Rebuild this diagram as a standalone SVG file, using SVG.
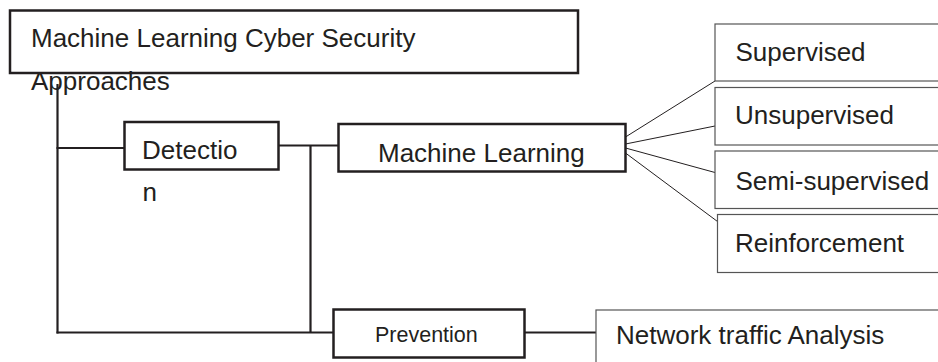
<svg xmlns="http://www.w3.org/2000/svg" width="938" height="362" viewBox="0 0 938 362">
  <style>
    .box { fill: #ffffff; stroke: #231f20; stroke-width: 2.5; }
    .leaf { fill: #ffffff; stroke: #555555; stroke-width: 1.2; }
    .wire { fill: none; stroke: #231f20; stroke-width: 2.2; }
    .fan { fill: none; stroke: #231f20; stroke-width: 1; }
    text { font-family: "Liberation Sans", Arial, sans-serif; font-size: 26px; fill: #231f20; }
    .small { font-size: 21.5px; }
  </style>
  <rect width="938" height="362" fill="#ffffff"/>

  <!-- connectors -->
  <g id="connectors">
    <line class="wire" x1="57.5" y1="84" x2="57.5" y2="333.5"/>
    <line class="wire" x1="56.5" y1="148" x2="124.5" y2="148"/>
    <line class="wire" x1="278.5" y1="145.5" x2="338.5" y2="145.5"/>
    <line class="wire" x1="310.5" y1="145.5" x2="310.5" y2="333"/>
    <line class="wire" x1="56.5" y1="332.5" x2="333.5" y2="332.5"/>
    <line class="wire" x1="524.5" y1="332.5" x2="596" y2="332.5"/>
    <line class="fan" x1="625.5" y1="137" x2="715" y2="81"/>
    <line class="fan" x1="625.5" y1="144" x2="715" y2="126"/>
    <line class="fan" x1="625.5" y1="148" x2="715" y2="172.5"/>
    <line class="fan" x1="625.5" y1="153" x2="717.5" y2="221.5"/>
  </g>

  <!-- root -->
  <g id="root">
    <rect class="box" x="10" y="10.5" width="568" height="62.5"/>
    <text x="31" y="47">Machine Learning Cyber Security</text>
    <text x="31" y="89.5">Approaches</text>
  </g>

  <g id="detection">
    <rect class="box" x="124.5" y="122" width="154" height="47.5"/>
    <text x="142" y="159">Detectio</text>
    <text x="142.5" y="201">n</text>
  </g>

  <g id="machine-learning">
    <rect class="box" x="338.5" y="124" width="287" height="47.5"/>
    <text x="378" y="162">Machine Learning</text>
  </g>

  <g id="supervised">
    <rect class="leaf" x="715" y="24" width="240" height="57"/>
    <text x="735.5" y="61">Supervised</text>
  </g>

  <g id="unsupervised">
    <rect class="leaf" x="715" y="87.5" width="240" height="57.5"/>
    <text x="735" y="123.5">Unsupervised</text>
  </g>

  <g id="semi-supervised">
    <rect class="leaf" x="715" y="151" width="240" height="57.5"/>
    <text x="735.5" y="190">Semi-supervised</text>
  </g>

  <g id="reinforcement">
    <rect class="leaf" x="717.5" y="214.5" width="240" height="58"/>
    <text x="735" y="251.5">Reinforcement</text>
  </g>

  <g id="prevention">
    <rect class="box" x="333.5" y="309.5" width="191" height="48"/>
    <text class="small" x="375" y="342">Prevention</text>
  </g>

  <g id="network-traffic-analysis">
    <rect class="leaf" x="596" y="310" width="360" height="70"/>
    <text x="616" y="344">Network traffic Analysis</text>
  </g>
</svg>
